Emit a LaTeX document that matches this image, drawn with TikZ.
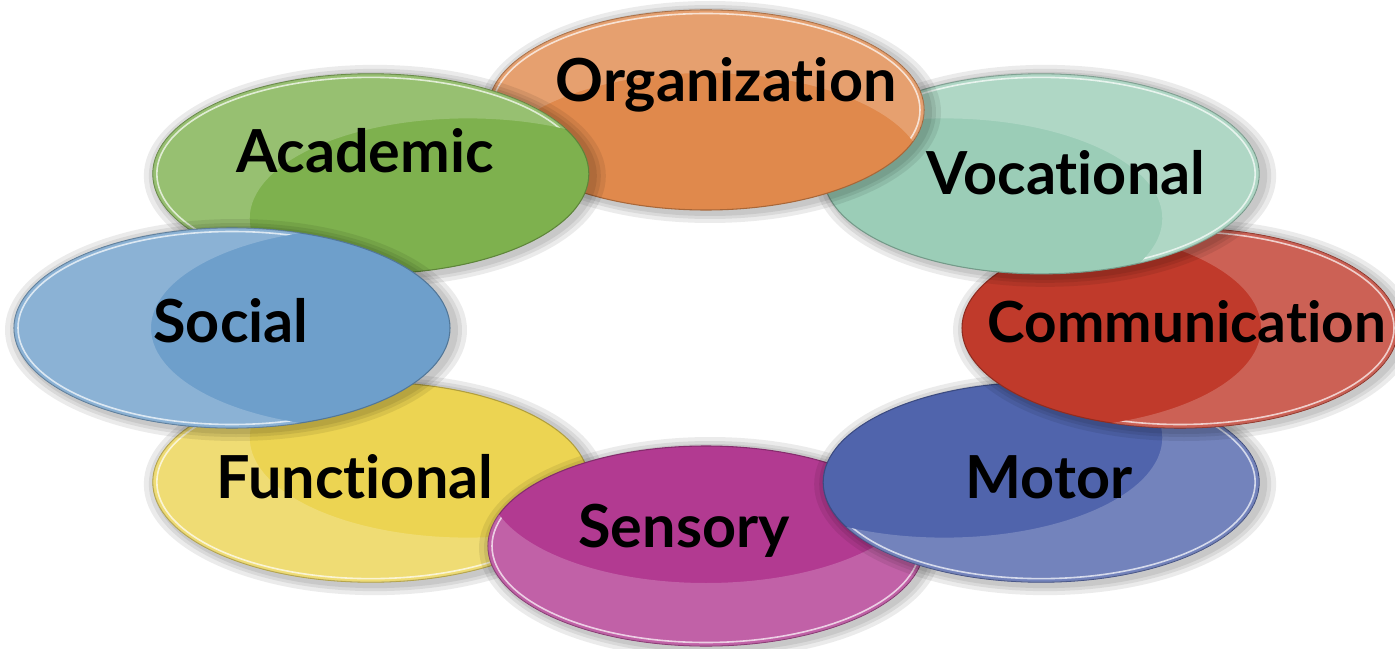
\documentclass[tikz,border=0pt]{standalone}
\usepackage{fontspec}
\setmainfont{Lato}[Ligatures={NoCommon}]
\usetikzlibrary{calc}
\definecolor{orgcol}{RGB}{224,137,76}
\definecolor{voccol}{RGB}{155,205,183}
\definecolor{comcol}{RGB}{192,58,43}
\definecolor{motcol}{RGB}{80,100,172}
\definecolor{sencol}{RGB}{178,58,145}
\definecolor{funcol}{RGB}{236,212,82}
\definecolor{soccol}{RGB}{110,159,203}
\definecolor{acacol}{RGB}{126,177,78}
\begin{document}
\begin{tikzpicture}[x=0.75pt,y=0.75pt,yscale=-1,xscale=1,
    petal/.style={fill=#1, draw=#1!75!black, line width=0.8},
    halo/.style={fill=black, opacity=0.08},
    gloss/.style={fill=white, opacity=0.2},
    rim/.style={draw=white, opacity=0.7, line width=1.2},
    lbl/.style={anchor=base, inner sep=0, text=black,
        font=\fontsize{#1}{#1}\selectfont\bfseries}]
    \useasboundingbox (0,0) rectangle (1395,649);
    % petals, from the bottom layer up
    \foreach \a/\col/\nm/\tx/\ty/\fs/\txt in {
        -135/funcol/functional/355/498/44.5/Functional,
        -90/sencol/sensory/684/547/44.5/Sensory,
        -45/motcol/motor/1049/498/44.5/Motor,
        0/comcol/communication/1187/342/42.5/Communication,
        45/voccol/vocational/1066/195/44.5/Vocational,
        90/orgcol/organization/726/102/44.5/Organization,
        135/acacol/academic/365/173/44.5/Academic,
        180/soccol/social/231/342/44.5/Social}{
        \coordinate (c-\nm) at ({706+474*cos(\a)},{328-218*sin(\a)});
        \coordinate (g-\nm) at ($(c-\nm)+({-137*cos(\a)},{63*sin(\a)})$);
        \fill[halo] ($(c-\nm)+(4,2)$) ellipse [x radius=231, y radius=111];
        \fill[halo] ($(c-\nm)+(4,2)$) ellipse [x radius=226, y radius=107];
        \fill[halo] ($(c-\nm)+(4,2)$) ellipse [x radius=222, y radius=104];
        \draw[petal=\col] (c-\nm) ellipse [x radius=218, y radius=100];
        \begin{scope}
            \clip (c-\nm) ellipse [x radius=218, y radius=100];
            \begin{scope}[even odd rule]
                \clip (c-\nm) ellipse [x radius=230, y radius=110]
                    (g-\nm) ellipse [x radius=218, y radius=100];
                \fill[gloss] (c-\nm) ellipse [x radius=218, y radius=100];
                \draw[rim] (c-\nm) ellipse [x radius=214, y radius=96.5];
            \end{scope}
        \end{scope}
        \node[lbl=\fs] (\nm) at (\tx,\ty) {\txt};
    }
\end{tikzpicture}
\end{document}
